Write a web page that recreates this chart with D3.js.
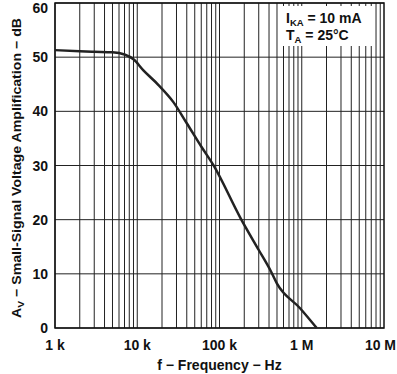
<!DOCTYPE html>
<html>
<head>
<meta charset="utf-8">
<script src="https://cdn.jsdelivr.net/npm/d3@7"></script>
<style>
	html, body { margin: 0; padding: 0; background: #fff; }
	svg { display: block; font-family: 'Liberation Sans', Arial, sans-serif; font-weight: bold; }
</style>
</head>
<body>
<div id="chart"></div>
<script>
// 곡선 데이터 (Hz, dB)
const freqHz = [1000, 2000, 3000, 5000, 7000, 9000, 11800, 18000, 27500, 40000, 60000, 84000, 180000, 300000, 414000, 500000, 960000, 1520000];
const gainDb = [51.3, 51.1, 51.0, 50.9, 50.5, 49.6, 47.6, 44.9, 41.7, 37.8, 33.5, 30.1, 20.3, 14.4, 10.7, 8.2, 3.6, 0];

// 축 라벨
const xTickVals = [1e3, 1e4, 1e5, 1e6, 1e7];
const xTickLabels = ['1 k', '10 k', '100 k', '1 M', '10 M'];
const yTickVals = [0, 10, 20, 30, 40, 50, 60];

const W = 397, H = 374;
const plot = { left: 55, right: 384, top: 3, bottom: 328 };

const svg = d3.select('#chart').append('svg')
	.attr('width', W)
	.attr('height', H);

const x = d3.scaleLog().domain([1e3, 1e7]).range([plot.left, plot.right]);
const y = d3.scaleLinear().domain([0, 60]).range([plot.bottom, plot.top]);

// 세로 그리드 (1,2,...9 x 10^n)
const minor = [];
for(let d = 1e3; d < 1e7; d *= 10) {
	for(let m = 1; m < 10; m++) minor.push(d * m);
}

const grid = svg.append('g');

grid.selectAll('line.v')
	.data(minor)
	.enter().append('line')
	.attr('x1', d => x(d)).attr('x2', d => x(d))
	.attr('y1', plot.top).attr('y2', plot.bottom)
	.style('stroke', '#222')
	.style('stroke-width', 1);

grid.selectAll('line.h')
	.data(yTickVals)
	.enter().append('line')
	.attr('x1', plot.left).attr('x2', plot.right)
	.attr('y1', d => y(d)).attr('y2', d => y(d))
	.style('stroke', '#222')
	.style('stroke-width', 1);

// 테두리
svg.append('rect')
	.attr('x', plot.left).attr('y', plot.top)
	.attr('width', plot.right - plot.left)
	.attr('height', plot.bottom - plot.top)
	.style('fill', 'none')
	.style('stroke', '#111')
	.style('stroke-width', 1.5);

// 조건 박스
const note = svg.append('g');
note.append('rect')
	.attr('x', 281).attr('y', 6)
	.attr('width', 91).attr('height', 40)
	.style('fill', '#fff');

const t1 = note.append('text').attr('x', 286).attr('y', 23).attr('font-size', '14px').style('fill', '#111');
t1.append('tspan').text('I');
t1.append('tspan').attr('font-size', '9.5px').attr('dy', 2.5).text('KA');
t1.append('tspan').attr('dy', -2.5).text(' = 10 mA');

const t2 = note.append('text').attr('x', 286).attr('y', 40).attr('font-size', '14px').style('fill', '#111');
t2.append('tspan').text('T');
t2.append('tspan').attr('font-size', '9.5px').attr('dy', 2.5).text('A');
t2.append('tspan').attr('dy', -2.5).text(' = 25°C');

// 곡선
const line = d3.line()
	.x((d, i) => x(freqHz[i]))
	.y(d => y(d))
	.curve(d3.curveMonotoneX);

svg.append('path')
	.attr('d', line(gainDb))
	.style('fill', 'none')
	.style('stroke', '#222')
	.style('stroke-width', 2.5);

// 눈금 라벨
svg.selectAll('text.ytick')
	.data(yTickVals)
	.enter().append('text')
	.attr('x', 48)
	.attr('y', d => Math.max(y(d), 8))
	.attr('dy', '.36em')
	.attr('font-size', '14px')
	.style('text-anchor', 'end')
	.style('fill', '#111')
	.text(d => d);

svg.selectAll('text.xtick')
	.data(xTickVals)
	.enter().append('text')
	.attr('x', (d, i) => i === xTickVals.length - 1 ? W - 1 : x(d))	// 마지막 라벨은 오른쪽 끝에 맞춤
	.attr('y', 350)
	.attr('font-size', '14px')
	.style('text-anchor', (d, i) => i === xTickVals.length - 1 ? 'end' : 'middle')
	.style('fill', '#111')
	.text((d, i) => xTickLabels[i]);

// 축 제목
svg.append('text')
	.attr('x', (plot.left + plot.right) / 2)
	.attr('y', 370)
	.attr('font-size', '14px')
	.style('text-anchor', 'middle')
	.style('fill', '#111')
	.text('f − Frequency − Hz');

const yt = svg.append('text')
	.attr('transform', 'translate(21,168) rotate(-90)')
	.attr('font-size', '13px')
	.attr('textLength', 300)
	.attr('lengthAdjust', 'spacingAndGlyphs')
	.style('text-anchor', 'middle')
	.style('fill', '#111');
yt.append('tspan').text('A');
yt.append('tspan').attr('font-size', '9.5px').attr('dy', 3).text('V');
yt.append('tspan').attr('dy', -3).text(' − Small-Signal Voltage Amplification − dB');
</script>
</body>
</html>
